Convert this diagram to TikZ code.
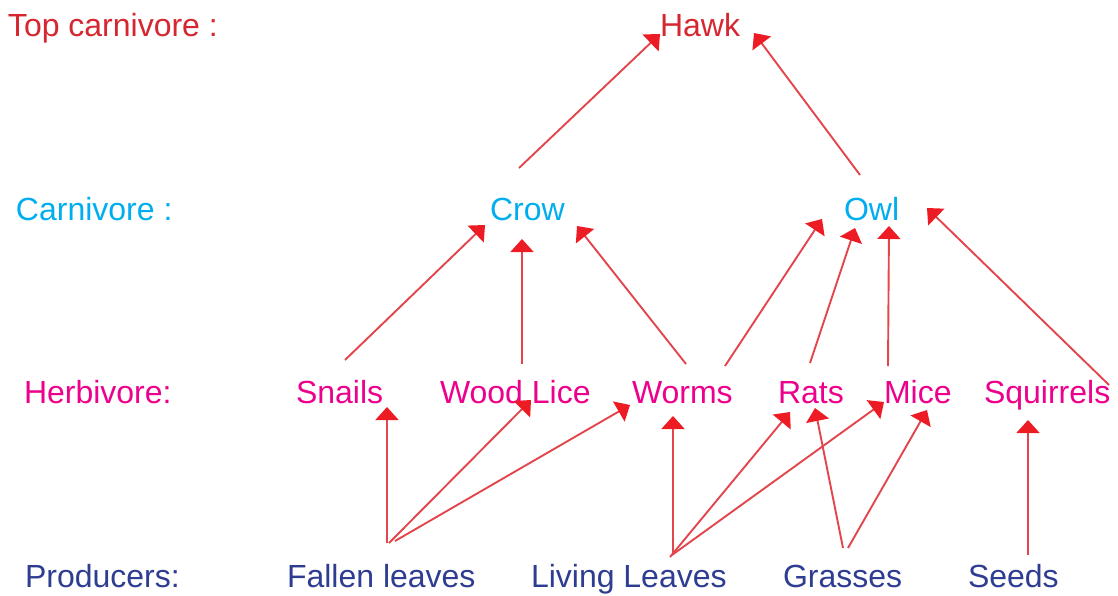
\documentclass[tikz,border=0pt]{standalone}
\usepackage{fontspec}
\setmainfont{Liberation Sans}
\usetikzlibrary{arrows.meta}
\definecolor{topred}{RGB}{214,38,48}
\definecolor{carncyan}{RGB}{0,174,239}
\definecolor{herbmag}{RGB}{236,0,140}
\definecolor{prodblue}{RGB}{46,61,145}
\definecolor{linered}{RGB}{226,70,76}
\definecolor{headred}{RGB}{237,28,36}
\begin{document}
\begin{tikzpicture}[x=1pt,y=-1pt,
  lbl/.style={anchor=base west,inner sep=0pt,outer sep=0pt,font=\fontsize{32}{36}\selectfont},
  toplvl/.style={lbl,text=topred},
  carnlvl/.style={lbl,text=carncyan},
  herblvl/.style={lbl,text=herbmag},
  prodlvl/.style={lbl,text=prodblue},
  arr/.style={draw=linered,line width=1.9pt,-{Triangle[length=13pt,width=23pt,color=headred]}}]
\useasboundingbox (0,0) rectangle (1118,595);
% level labels
\node[toplvl] (topl) at (8,36) {Top carnivore :};
\node[carnlvl] (carl) at (16,220) {Carnivore :};
\node[herblvl] (herl) at (24,403) {Herbivore:};
\node[prodlvl] (prol) at (25,587) {Producers:};
% organisms
\node[toplvl] (hawk) at (660,36) {Hawk};
\node[carnlvl] (crow) at (490,220) {Crow};
\node[carnlvl] (owl) at (844,220) {Owl};
\node[herblvl] (snails) at (296,403) {Snails};
\node[herblvl] (wood) at (440,403) {Wood Lice};
\node[herblvl] (worms) at (632,403) {Worms};
\node[herblvl] (rats) at (778,403) {Rats};
\node[herblvl] (mice) at (884,403) {Mice};
\node[herblvl] (squir) at (984,403) {Squirrels};
\node[prodlvl] (fallen) at (287,587) {Fallen leaves};
\node[prodlvl] (living) at (531,587) {Living Leaves};
\node[prodlvl] (grasses) at (783,587) {Grasses};
\node[prodlvl] (seeds) at (968,587) {Seeds};
% connectors
\draw[arr] ([shift={(29,-52)}]crow.base west) -- ([shift={(0,-2)}]hawk.base west);
\draw[arr] ([shift={(16,-45)}]owl.base west) -- ([shift={(94,-3)}]hawk.base west);
\draw[arr] ([shift={(49,-43)}]snails.base west) -- ([shift={(-5,5)}]crow.base west);
\draw[arr] ([shift={(82,-39)}]wood.base west) -- ([shift={(32,19)}]crow.base west);
\draw[arr] ([shift={(54,-39)}]worms.base west) -- ([shift={(87,6)}]crow.base west);
\draw[arr] ([shift={(93,-37)}]worms.base west) -- ([shift={(-22,-1)}]owl.base west);
\draw[arr] ([shift={(32,-40)}]rats.base west) -- ([shift={(11,8)}]owl.base west);
\draw[arr] ([shift={(4,-37)}]mice.base west) -- ([shift={(45,6)}]owl.base west);
\draw[arr] ([shift={(125,-18)}]squir.base west) -- ([shift={(83,-12)}]owl.base west);
\draw[arr] ([shift={(100,-44)}]fallen.base west) -- ([shift={(91,4)}]snails.base west);
\draw[arr] ([shift={(102,-44)}]fallen.base west) -- ([shift={(91,-3)}]wood.base west);
\draw[arr] ([shift={(108,-46)}]fallen.base west) -- ([shift={(-2,2)}]worms.base west);
\draw[arr] ([shift={(142,-34)}]living.base west) -- ([shift={(41,13)}]worms.base west);
\draw[arr] ([shift={(139,-30)}]living.base west) -- ([shift={(12,9)}]rats.base west);
\draw[arr] ([shift={(141,-32)}]living.base west) -- ([shift={(0,-1)}]mice.base west);
\draw[arr] ([shift={(60,-39)}]grasses.base west) -- ([shift={(37,5)}]rats.base west);
\draw[arr] ([shift={(65,-39)}]grasses.base west) -- ([shift={(43,7)}]mice.base west);
\draw[arr] ([shift={(60,-32)}]seeds.base west) -- ([shift={(44,17)}]squir.base west);
\end{tikzpicture}
\end{document}
